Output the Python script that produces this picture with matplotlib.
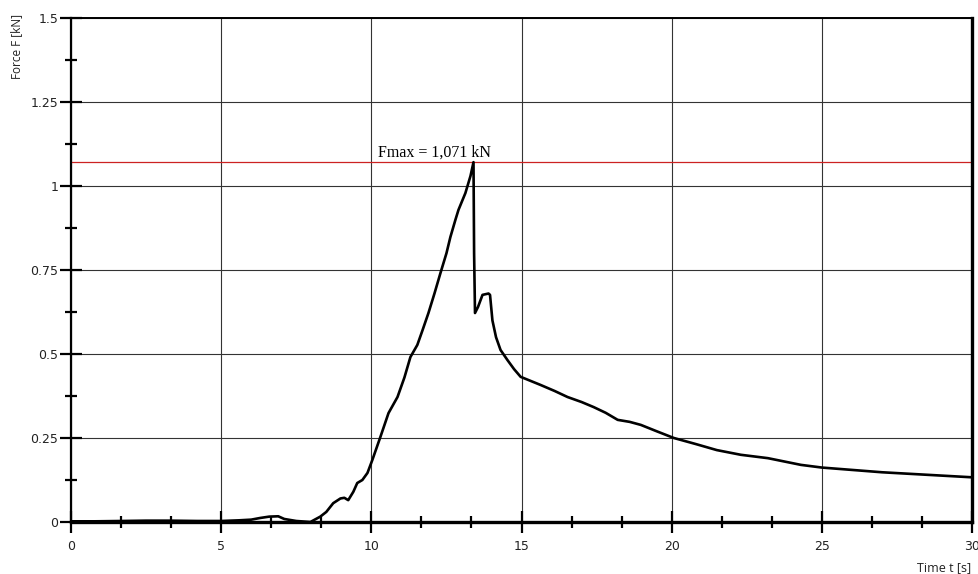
import numpy as np
import matplotlib.pyplot as plt
from matplotlib.ticker import MultipleLocator

# values
time_s = [0.0, 0.8, 1.7, 2.5, 3.3, 4.2, 5.0, 5.6, 6.0, 6.3, 6.6, 6.9, 7.1, 7.5, 7.97,
          8.3, 8.5, 8.73, 8.97, 9.1, 9.23, 9.4, 9.53, 9.7, 9.87, 10.03, 10.3, 10.57,
          10.87, 11.1, 11.3, 11.53, 11.7, 11.9, 12.1, 12.3, 12.5, 12.63, 12.8, 12.9,
          13.13, 13.3, 13.4, 13.42, 13.45, 13.55, 13.7, 13.9, 13.95, 14.03, 14.15,
          14.3, 14.53, 14.75, 14.97, 15.3, 15.63, 16.1, 16.53, 17.0, 17.4, 17.8,
          18.2, 18.6, 18.97, 19.5, 20.07, 20.8, 21.5, 22.3, 23.2, 24.3, 25.0, 26.0,
          27.0, 28.0, 29.0, 30.0]
force_kn = [0.002, 0.002, 0.003, 0.004, 0.004, 0.003, 0.003, 0.005, 0.007, 0.012, 0.016,
            0.017, 0.009, 0.003, 0.0,
            0.016, 0.03, 0.056, 0.07, 0.072, 0.065, 0.09, 0.116, 0.125, 0.146, 0.184,
            0.253, 0.324, 0.372, 0.43, 0.491, 0.527, 0.57, 0.622, 0.68, 0.741, 0.8,
            0.848, 0.9, 0.929, 0.979, 1.03, 1.071, 0.8, 0.622, 0.64, 0.676, 0.68,
            0.676, 0.6, 0.55, 0.512, 0.482, 0.455, 0.432, 0.42, 0.408, 0.39, 0.372,
            0.357, 0.342, 0.325, 0.304, 0.298, 0.289, 0.27, 0.25, 0.232, 0.214, 0.2,
            0.19, 0.17, 0.162, 0.155, 0.148, 0.143, 0.138, 0.133]
f_max = 1.071

fig = plt.figure(figsize=(9.79, 5.74), dpi=100)
ax = fig.add_axes([0.0725, 0.0906, 0.9205, 0.878])

ax.plot(time_s, force_kn, color='black', lw=1.9, solid_joinstyle='round', zorder=3)
ax.axhline(f_max, color='#cc2222', lw=0.9, zorder=2)
ax.text(10.23, f_max + 0.006, 'Fmax = 1,071 kN', family='Liberation Serif',
        fontsize=11.5, va='bottom', ha='left')

ax.set_xlim(0, 30)
ax.set_ylim(0, 1.5)
ax.xaxis.set_major_locator(MultipleLocator(5))
ax.xaxis.set_minor_locator(MultipleLocator(5 / 3))
ax.yaxis.set_major_locator(MultipleLocator(0.25))
ax.yaxis.set_minor_locator(MultipleLocator(0.125))
ax.set_yticks([0, 0.25, 0.5, 0.75, 1, 1.25, 1.5])
ax.set_yticklabels(['0', '0.25', '0.5', '0.75', '1', '1.25', '1.5'])

ax.grid(True, which='major', color='#333333', lw=0.8, zorder=1)
ax.tick_params(which='major', direction='inout', length=16, width=1.6,
               labelsize=9, colors='black', labelcolor='#222222')
ax.tick_params(axis='x', which='major', pad=5)
ax.tick_params(axis='y', which='major', pad=1)
ax.tick_params(which='minor', direction='inout', length=9, width=1.6)

for side, w in [('left', 1.6), ('bottom', 2.4), ('top', 1.4), ('right', 2.4)]:
    ax.spines[side].set_linewidth(w)
    ax.spines[side].set_zorder(4)

fig.text(0.017, 0.975, 'Force F [kN]', rotation=90, fontsize=8.5,
         family='Open Sans', va='top', ha='center', color='#222222')
fig.text(0.992, 0.0, 'Time t [s]', fontsize=9, family='Open Sans',
         va='bottom', ha='right', color='#222222')

fig.savefig('out.png', dpi=100)
